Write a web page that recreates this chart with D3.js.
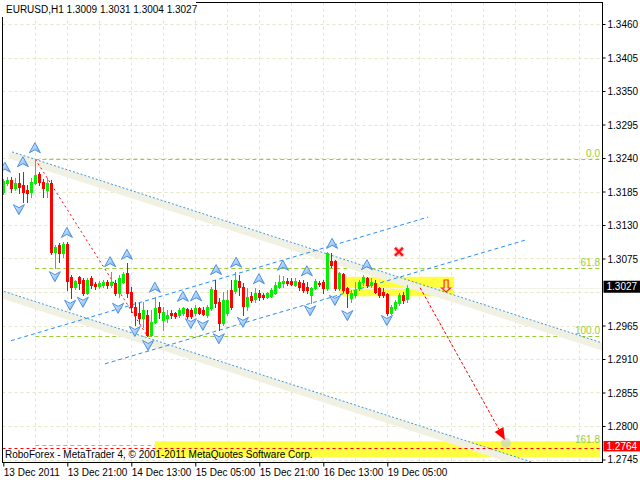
<!DOCTYPE html>
<html><head><meta charset="utf-8">
<script src="https://cdn.jsdelivr.net/npm/d3@7"></script>
<style>
html,body{margin:0;padding:0;background:#fff;}
svg{display:block;font-family:"Liberation Sans",Arial,sans-serif;}
</style></head><body>
<svg id="c" width="640" height="480"></svg>
<script>
// ---------------- data ----------------
const titleText = "EURUSD,H1  1.3009 1.3031 1.3004 1.3027";
const copyrightText = "RoboForex - MetaTrader 4, \u00A9 2001-2011 MetaQuotes Software Corp.";

// hourly candles [open, high, low, close], bar 0 = 13 Dec 05:00
const candles = [
[1.3184,1.3206,1.3181,1.3202],[1.3199,1.3209,1.3196,1.3204],[1.3204,1.3209,1.3184,1.3191],[1.3191,1.3207,1.3187,1.3199],
[1.3199,1.3215,1.3183,1.3192],[1.3196,1.3217,1.3168,1.3184],[1.3187,1.3196,1.3168,1.3183],[1.3184,1.3207,1.3176,1.3201],
[1.3199,1.3238,1.3197,1.3212],[1.3214,1.3217,1.3196,1.3201],[1.3201,1.3206,1.3176,1.3191],[1.3187,1.3207,1.3176,1.3199],
[1.3199,1.3204,1.3082,1.3086],[1.3086,1.3097,1.3059,1.3094],[1.3097,1.3100,1.3069,1.3084],[1.3084,1.3102,1.3077,1.3099],
[1.3099,1.3102,1.3023,1.3038],[1.3045,1.3048,1.3010,1.3028],[1.3028,1.3040,1.3025,1.3038],[1.3045,1.3046,1.3025,1.3035],
[1.3040,1.3043,1.3015,1.3018],[1.3018,1.3043,1.3017,1.3040],[1.3043,1.3046,1.3027,1.3031],[1.3033,1.3036,1.3025,1.3030],
[1.3030,1.3038,1.3027,1.3035],[1.3031,1.3040,1.3028,1.3036],[1.3036,1.3040,1.3027,1.3031],[1.3031,1.3053,1.3028,1.3036],
[1.3035,1.3040,1.3015,1.3018],[1.3018,1.3048,1.3012,1.3043],[1.3036,1.3053,1.3035,1.3050],[1.3051,1.3068,1.3012,1.3018],
[1.3020,1.3028,1.2987,1.2995],[1.2995,1.3004,1.2966,1.2982],[1.2985,1.3002,1.2969,1.2977],[1.2977,1.3004,1.2962,1.2990],
[1.2982,1.2990,1.2948,1.2949],[1.2949,1.2990,1.2948,1.2971],[1.2971,1.3012,1.2969,1.2994],[1.2995,1.3004,1.2977,1.2987],
[1.2974,1.2995,1.2958,1.2987],[1.2977,1.2990,1.2971,1.2982],[1.2985,1.2990,1.2977,1.2982],[1.2985,1.2987,1.2977,1.2981],
[1.2982,1.2994,1.2979,1.2990],[1.2985,1.2995,1.2982,1.2994],[1.2992,1.2994,1.2977,1.2981],[1.2990,1.2994,1.2977,1.2981],
[1.2985,1.2999,1.2982,1.2994],[1.2994,1.2995,1.2984,1.2985],[1.2990,1.2995,1.2982,1.2984],[1.2982,1.2999,1.2979,1.2995],
[1.2994,1.3028,1.2990,1.3025],[1.3023,1.3040,1.2995,1.3002],[1.3004,1.3010,1.2958,1.2969],[1.2969,1.3020,1.2966,1.3007],
[1.2985,1.3023,1.2982,1.3007],[1.3023,1.3040,1.2992,1.2995],[1.3022,1.3053,1.3018,1.3040],[1.3038,1.3048,1.3015,1.3028],
[1.3028,1.3035,1.2982,1.2997],[1.2997,1.3027,1.2990,1.3012],[1.3013,1.3020,1.3004,1.3007],[1.3008,1.3027,1.3004,1.3018],
[1.3018,1.3023,1.3007,1.3012],[1.3015,1.3018,1.3008,1.3012],[1.3012,1.3020,1.3010,1.3018],[1.3013,1.3027,1.3012,1.3023],
[1.3018,1.3036,1.3017,1.3031],[1.3028,1.3048,1.3027,1.3036],[1.3035,1.3046,1.3028,1.3038],[1.3038,1.3043,1.3031,1.3035],
[1.3038,1.3043,1.3031,1.3033],[1.3031,1.3043,1.3030,1.3038],[1.3036,1.3040,1.3023,1.3028],[1.3035,1.3040,1.3020,1.3023],
[1.3028,1.3036,1.3018,1.3023],[1.3015,1.3028,1.3002,1.3027],[1.3027,1.3041,1.3025,1.3038],[1.3035,1.3038,1.3030,1.3033],
[1.3036,1.3040,1.3018,1.3027],[1.3027,1.3086,1.3023,1.3084],[1.3071,1.3084,1.3061,1.3064],[1.3071,1.3072,1.3023,1.3027],
[1.3027,1.3053,1.3023,1.3051],[1.3050,1.3051,1.3020,1.3023],[1.3027,1.3028,1.2995,1.3018],[1.3010,1.3023,1.3004,1.3018],
[1.3015,1.3036,1.3012,1.3023],[1.3027,1.3040,1.3023,1.3036],[1.3036,1.3048,1.3031,1.3045],[1.3043,1.3045,1.3028,1.3031],
[1.3031,1.3043,1.3028,1.3036],[1.3035,1.3040,1.3018,1.3020],[1.3027,1.3028,1.3012,1.3015],[1.3020,1.3027,1.3012,1.3015],
[1.3017,1.3018,1.2982,1.2985],[1.2985,1.2999,1.2984,1.2995],[1.2994,1.3007,1.2990,1.3004],[1.3002,1.3018,1.2999,1.3015],
[1.3015,1.3020,1.3002,1.3007],[1.3009,1.3031,1.3004,1.3027]
];

// price grid levels; labels are shown for all but the one hidden by the bid label
const priceGrid = [1.3460,1.3405,1.3350,1.3295,1.3240,1.3185,1.3130,1.3075,1.3020,1.2965,1.2910,1.2855,1.2800,1.2745];
const priceLabels = [1.3460,1.3405,1.3350,1.3295,1.3240,1.3185,1.3130,1.3075,1.2965,1.2910,1.2855,1.2800,1.2745];
const timeTickBars = [0,16,32,48,64,80,96];
const timeTickLabels = ["13 Dec 2011","13 Dec 21:00","14 Dec 13:00","15 Dec 05:00","15 Dec 21:00","16 Dec 13:00","19 Dec 05:00"];
const gridBars = [8,16,24,32,40,48,56,64,72,80,88,96,104,112,120,128,136,144];

const fibHigh = [8, 1.3238];
const fibLow = [36, 1.2948];
const fibLevels = [0, 61.8, 100, 161.8];
const fibLabels = ["0.0", "61.8", "100.0", "161.8"];

const upMarks = [[0.4,1.3224],[4.9,1.3233],[7.9,1.3256],[15.9,1.3117],[26.7,1.3069],[30.9,1.3081],[37.9,1.3027],
  [44.9,1.3012],[48.2,1.3013],[53.2,1.3056],[58.2,1.3068],[63.9,1.3041],[69.9,1.3063],[75.9,1.3054],[82.2,1.3099],[90.9,1.3064]];
const downMarks = [[3.9,1.3156],[12.9,1.3046],[16.7,1.2999],[19.9,1.3004],[28.7,1.2994],[32.9,1.2956],[36.2,1.2933],
  [46.9,1.2969],[49.9,1.2966],[53.9,1.2944],[59.9,1.2971],[76.7,1.2990],[82.9,1.3007],[86.0,1.2982],[95.9,1.2974]];

const fallingChannel = [[[2.2,1.3250],[149.9,1.2936]], [[-0.8,1.3023],[149.9,1.2703]]];
const risingChannel = [[[1.9,1.2940],[106.2,1.3143]], [[25.4,1.2902],[130.4,1.3105]]];
const zoneRect = [[84.2,1.3045],[112.7,1.3013]];
const targetRect = [[37.9,1.2775],[149.2,1.2749]];
const forecastArrow = [[104.2,1.3027],[125.4,1.2777]];
const crossMark = [98.9,1.3086];
const sellMark = [110.7,1.3020];
const lastPrice = 1.3027;
const targetPrice = 1.2764;

// ---------------- chart ----------------
const svg = d3.select("#c");
const L = 2.5, R = 602.5, T = 2.5, B = 462.5;
const x = d3.scaleLinear().domain([0, 150]).range([3.3, 603.3]);
const y = d3.scaleLinear().domain([1.2800, 1.3460]).range([426, 24]);

svg.append("rect").attr("width",640).attr("height",480).attr("fill","#fff");
const defs = svg.append("defs");
defs.append("clipPath").attr("id","plot")
  .append("rect").attr("x",L).attr("y",T).attr("width",R-L).attr("height",B-T);

const g = svg.append("g").attr("clip-path","url(#plot)");

// grid
g.selectAll(".hg").data(priceGrid).join("line")
  .attr("x1",L).attr("x2",R)
  .attr("y1",d=>Math.round(y(d))+0.5).attr("y2",d=>Math.round(y(d))+0.5)
  .attr("stroke","#e6e6c4").attr("stroke-dasharray","3,3");
g.selectAll(".vg").data(gridBars).join("line")
  .attr("x1",d=>Math.round(x(d))+0.5).attr("x2",d=>Math.round(x(d))+0.5)
  .attr("y1",T).attr("y2",B)
  .attr("stroke","#e6e6c4").attr("stroke-dasharray","3,3");

// fibonacci levels
const fibPrice = lv => fibHigh[1] - (fibHigh[1]-fibLow[1]) * lv / 100;
g.selectAll(".fib").data(fibLevels).join("line")
  .attr("x1",x(fibHigh[0])).attr("x2",R)
  .attr("y1",d=>Math.round(y(fibPrice(d)))+0.5).attr("y2",d=>Math.round(y(fibPrice(d)))+0.5)
  .attr("stroke","#9acd32").attr("stroke-dasharray","4,3");

// yellow rectangles
[zoneRect, targetRect].forEach(r => {
  g.append("rect")
    .attr("x",x(r[0][0])).attr("y",y(r[0][1]))
    .attr("width",x(r[1][0])-x(r[0][0])).attr("height",y(r[1][1])-y(r[0][1]))
    .attr("fill","#ffff40");
});

g.selectAll(".fibt").data(fibLevels).join("text")
  .attr("x",600).attr("y",d=>y(fibPrice(d))-2)
  .attr("text-anchor","end").attr("font-size","10px").attr("fill","#9acd32")
  .text((d,i)=>fibLabels[i]);

// bid line
g.append("line").attr("x1",L).attr("x2",R)
  .attr("y1",Math.round(y(lastPrice))+0.5).attr("y2",Math.round(y(lastPrice))+0.5)
  .attr("stroke","#f2f2ea");

// falling channel: shade + dotted line
fallingChannel.forEach(seg => {
  g.append("line")
    .attr("x1",x(seg[0][0])).attr("y1",y(seg[0][1]))
    .attr("x2",x(seg[1][0])).attr("y2",y(seg[1][1]))
    .attr("transform","translate(0,4)")
    .attr("stroke","#f0f0e3").attr("stroke-width",7).attr("stroke-linecap","round");
});
fallingChannel.forEach(seg => {
  g.append("line")
    .attr("x1",x(seg[0][0])).attr("y1",y(seg[0][1]))
    .attr("x2",x(seg[1][0])).attr("y2",y(seg[1][1]))
    .attr("stroke","#3d95dc").attr("stroke-dasharray","2,2");
});
// rising channel
risingChannel.forEach(seg => {
  g.append("line")
    .attr("x1",x(seg[0][0])).attr("y1",y(seg[0][1]))
    .attr("x2",x(seg[1][0])).attr("y2",y(seg[1][1]))
    .attr("stroke","#2b8cf0").attr("stroke-dasharray","4,3");
});

// fibo trend line (red dotted)
g.append("line")
  .attr("x1",x(fibHigh[0])).attr("y1",y(fibHigh[1]))
  .attr("x2",x(fibLow[0])).attr("y2",y(fibLow[1]))
  .attr("stroke","#ff0000").attr("stroke-dasharray","2,3");

// target horizontal line
g.append("line").attr("x1",L).attr("x2",R)
  .attr("y1",Math.round(y(targetPrice))+0.5).attr("y2",Math.round(y(targetPrice))+0.5)
  .attr("stroke","#ff0000").attr("stroke-dasharray","3,3");

// candles
const cg = g.append("g").attr("shape-rendering","crispEdges");
candles.forEach((c,i) => {
  const [o,h,l,cl] = c;
  const up = cl >= o;
  const col = up ? "#00f000" : "#ff0000";
  const cx = Math.round(x(i));
  cg.append("line").attr("x1",cx+0.5).attr("x2",cx+0.5)
    .attr("y1",Math.round(y(h))).attr("y2",Math.round(y(l))+1).attr("stroke",col);
  const top = Math.round(y(Math.max(o,cl))), bot = Math.round(y(Math.min(o,cl)));
  cg.append("rect").attr("x",cx-1).attr("y",top).attr("width",3)
    .attr("height",Math.max(1,bot-top+1)).attr("fill",col);
});

// fractal-like arrow glyphs
const upPath = "M0,-5.5 L5.5,4.5 L0,1.5 L-5.5,4.5 Z";
const dnPath = "M0,5.5 L5.5,-4.5 L0,-1.5 L-5.5,-4.5 Z";
const grad = defs.append("linearGradient").attr("id","gl").attr("x1",0).attr("y1",0).attr("x2",1).attr("y2",1);
grad.append("stop").attr("offset","0").attr("stop-color","#eef6ff");
grad.append("stop").attr("offset","1").attr("stop-color","#6aaaf0");
g.selectAll(".um").data(upMarks).join("path")
  .attr("d",upPath).attr("transform",d=>`translate(${x(d[0])},${y(d[1])})`)
  .attr("fill","url(#gl)").attr("stroke","#4a90e2").attr("stroke-width",1);
g.selectAll(".dm").data(downMarks).join("path")
  .attr("d",dnPath).attr("transform",d=>`translate(${x(d[0])},${y(d[1])})`)
  .attr("fill","url(#gl)").attr("stroke","#4a90e2").attr("stroke-width",1);

// forecast arrow
{
  const [s,e] = forecastArrow;
  const x1=x(s[0]), y1=y(s[1]), x2=x(e[0]), y2=y(e[1]);
  const ang = Math.atan2(y2-y1, x2-x1);
  const hl = 12, hw = 5;
  const bx = x2 - hl*Math.cos(ang), by = y2 - hl*Math.sin(ang);
  g.append("circle").attr("cx",x2+1).attr("cy",y2+3).attr("r",5).attr("fill","#c9d6c4").attr("opacity",0.7);
  g.append("line").attr("x1",x1).attr("y1",y1).attr("x2",bx).attr("y2",by)
    .attr("stroke","#ff0000").attr("stroke-dasharray","3,2");
  const px = -Math.sin(ang)*hw, py = Math.cos(ang)*hw;
  g.append("path").attr("d",`M${x2},${y2} L${bx+px},${by+py} L${bx-px},${by-py} Z`).attr("fill","#ff0000");
}

// cross mark
{
  const cx = x(crossMark[0]), cy = y(crossMark[1]);
  const d = `M${cx-4},${cy-4} L${cx+4},${cy+4} M${cx+4},${cy-4} L${cx-4},${cy+4}`;
  g.append("path").attr("d",d).attr("stroke","#ffc0c0").attr("stroke-width",4.5);
  g.append("path").attr("d",d).attr("stroke","#ff1010").attr("stroke-width",2.2);
}
// sell mark (outlined down arrow)
g.append("path")
  .attr("d","M-2,-12 L2,-12 L2,-4 L4.5,-4 L0,0 L-4.5,-4 L-2,-4 Z")
  .attr("transform",`translate(${x(sellMark[0])},${y(sellMark[1])})`)
  .attr("fill","none").attr("stroke","#ff2a2a").attr("stroke-width",1.2);

// frame
svg.append("rect").attr("x",L).attr("y",T).attr("width",R-L).attr("height",B-T)
  .attr("fill","none").attr("stroke","#000");

// price axis
const ya = svg.append("g").attr("transform",`translate(${R},0)`)
  .call(d3.axisRight(y).tickValues(priceLabels).tickSize(3).tickPadding(2).tickFormat(d3.format(".4f")));
ya.select(".domain").remove();
ya.selectAll("text").attr("font-size","10px").attr("font-family","Liberation Sans, Arial, sans-serif").attr("fill","#000")
  .attr("dy", d => (y(d) > B - 4 ? (B - 4 - y(d)) : 0) + 3.5);
ya.selectAll("line").attr("stroke","#000");

// time axis
const xa = svg.append("g").attr("transform",`translate(0,${B})`)
  .call(d3.axisBottom(x).tickValues(timeTickBars).tickSize(4).tickPadding(2).tickFormat((d,i)=>timeTickLabels[i]));
xa.select(".domain").remove();
xa.selectAll("text").attr("font-size","10px").attr("font-family","Liberation Sans, Arial, sans-serif")
  .attr("text-anchor","start").attr("fill","#000");
xa.selectAll("line").attr("stroke","#000");

// price labels
function priceBox(p, fill, h) {
  const yy = y(p);
  svg.append("rect").attr("x",R+1).attr("y",yy-7).attr("width",640-R-1).attr("height",h).attr("fill",fill);
  svg.append("text").attr("x",R+4).attr("y",yy+2.5).attr("font-size","10px").attr("fill","#fff").text(d3.format(".4f")(p));
}
priceBox(lastPrice, "#000", 12);
priceBox(targetPrice, "#ff0000", 10.5);

// title and copyright
svg.append("rect").attr("x",0).attr("y",0).attr("width",196).attr("height",17).attr("fill","#fff");
svg.append("text").attr("x",6).attr("y",13).attr("font-size","10px").attr("fill","#000").text(titleText);
svg.append("text").attr("x",5).attr("y",458).attr("font-size","10px").attr("fill","#000").text(copyrightText);
</script>
</body></html>
